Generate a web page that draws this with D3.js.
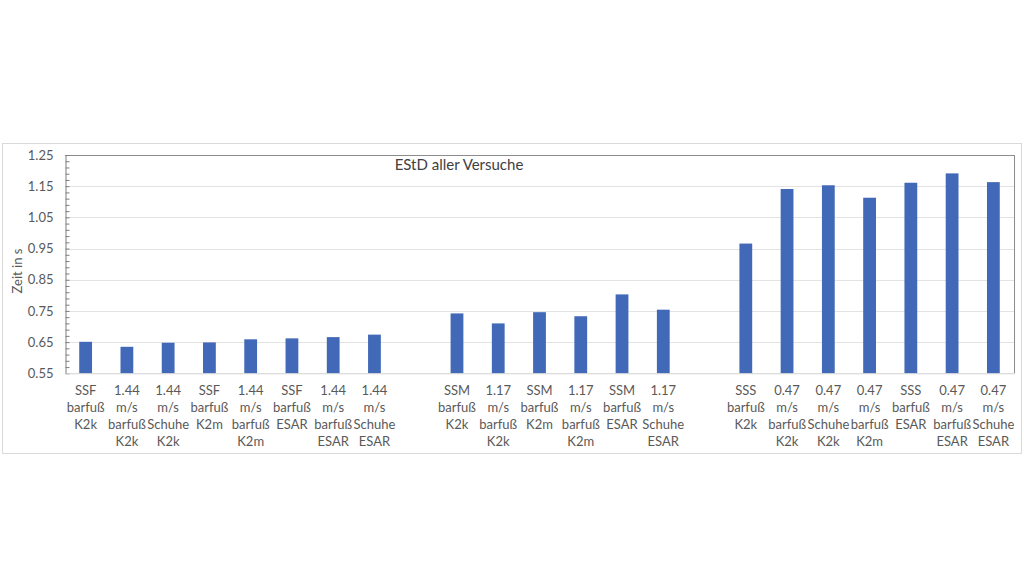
<!DOCTYPE html>
<html><head><meta charset="utf-8">
<script src="https://cdn.jsdelivr.net/npm/d3@7"></script>
<style>
html,body{margin:0;padding:0;background:#fff;}
text{font-family:Lato,"Open Sans",sans-serif;}
</style></head>
<body><svg id="c" width="1024" height="576"></svg>
<script>
const categories = [
  "SSF|barfuß|K2k","1.44|m/s|barfuß|K2k","1.44|m/s|Schuhe|K2k","SSF|barfuß|K2m","1.44|m/s|barfuß|K2m","SSF|barfuß|ESAR","1.44|m/s|barfuß|ESAR","1.44|m/s|Schuhe|ESAR",
  "",
  "SSM|barfuß|K2k","1.17|m/s|barfuß|K2k","SSM|barfuß|K2m","1.17|m/s|barfuß|K2m","SSM|barfuß|ESAR","1.17|m/s|Schuhe|ESAR",
  "",
  "SSS|barfuß|K2k","0.47|m/s|barfuß|K2k","0.47|m/s|Schuhe|K2k","0.47|m/s|barfuß|K2m","SSS|barfuß|ESAR","0.47|m/s|barfuß|ESAR","0.47|m/s|Schuhe|ESAR"
];
const values = [
  0.651,0.635,0.648,0.649,0.659,0.662,0.666,0.674,
  null,
  0.742,0.710,0.746,0.733,0.803,0.754,
  null,
  0.966,1.141,1.153,1.113,1.161,1.191,1.163
];
const yTicks = [0.55,0.65,0.75,0.85,0.95,1.05,1.15,1.25];
const title = "EStD aller Versuche";
const yTitle = "Zeit in s";

const svg = d3.select("#c");
const L = 65, R = 1014, T = 155, B = 373.3;

// outer chart border
svg.append("rect").attr("x",2.5).attr("y",143.5).attr("width",1019).attr("height",310)
  .attr("fill","#fff").attr("stroke","#d9d9d9").attr("stroke-width",1);

const x = d3.scaleBand().domain(d3.range(categories.length)).range([L,R])
  .paddingInner(0.69).paddingOuter(0.345);
const y = d3.scaleLinear().domain([0.55,1.25]).range([B,T]);

// gridlines
svg.append("g").selectAll("line").data(yTicks).join("line")
  .attr("x1",L).attr("x2",R).attr("y1",d=>Math.round(y(d))+0.5).attr("y2",d=>Math.round(y(d))+0.5)
  .attr("stroke","#e3e3e3").attr("stroke-width",1);

// plot border top and right
svg.append("line").attr("x1",L).attr("x2",R+0.5).attr("y1",Math.round(T)+0.5).attr("y2",Math.round(T)+0.5).attr("stroke","#8c8c8c");
svg.append("line").attr("x1",R+0.5).attr("x2",R+0.5).attr("y1",T).attr("y2",B).attr("stroke","#8c8c8c");

// bars
svg.append("g").selectAll("rect").data(values.map((v,i)=>({v,i})).filter(d=>d.v!==null)).join("rect")
  .attr("x",d=>x(d.i)).attr("width",x.bandwidth())
  .attr("y",d=>y(d.v)).attr("height",d=>y(0.55)-y(d.v))
  .attr("fill","#4169b8");

// y axis
const minor = d3.range(0.55,1.2501,0.02);
const yAxis = d3.axisLeft(y).tickValues(yTicks).tickFormat(d3.format(".2f")).tickSize(0).tickPadding(12);
const gy = svg.append("g").attr("transform",`translate(${L+0.5},0)`).call(yAxis);
gy.select(".domain").attr("stroke","#7f7f7f");
gy.selectAll("text").attr("font-size",13).attr("fill","#595959").attr("font-family","Lato,sans-serif");
const yMinor = d3.axisRight(y).tickValues(minor).tickFormat("").tickSize(4);
const gm = svg.append("g").attr("transform",`translate(${L+0.5},0)`).call(yMinor);
gm.select(".domain").remove();
gm.selectAll("line").attr("stroke","#7f7f7f");

// x axis
const xAxis = d3.axisBottom(x).tickSize(0).tickFormat("");
const gx = svg.append("g").attr("transform",`translate(0,${B})`).call(xAxis);
gx.select(".domain").attr("stroke","#d9d9d9");
gx.selectAll(".tick").each(function(i){
  const lines = categories[i] ? categories[i].split("|") : [];
  const t = d3.select(this).append("text").attr("fill","#595959").attr("font-size",13)
    .attr("text-anchor","middle").attr("font-family","Lato,sans-serif");
  lines.forEach((s,k)=>t.append("tspan").attr("x",0).attr("y",22+k*16.8).text(s));
});

// title
svg.append("text").attr("x",459).attr("y",170).attr("text-anchor","middle")
  .attr("font-size",15).attr("fill","#404040").text(title);

// y title
svg.append("text").attr("transform","translate(22,271) rotate(-90)").attr("text-anchor","middle")
  .attr("font-size",13).attr("fill","#595959").text(yTitle);
</script></body></html>
